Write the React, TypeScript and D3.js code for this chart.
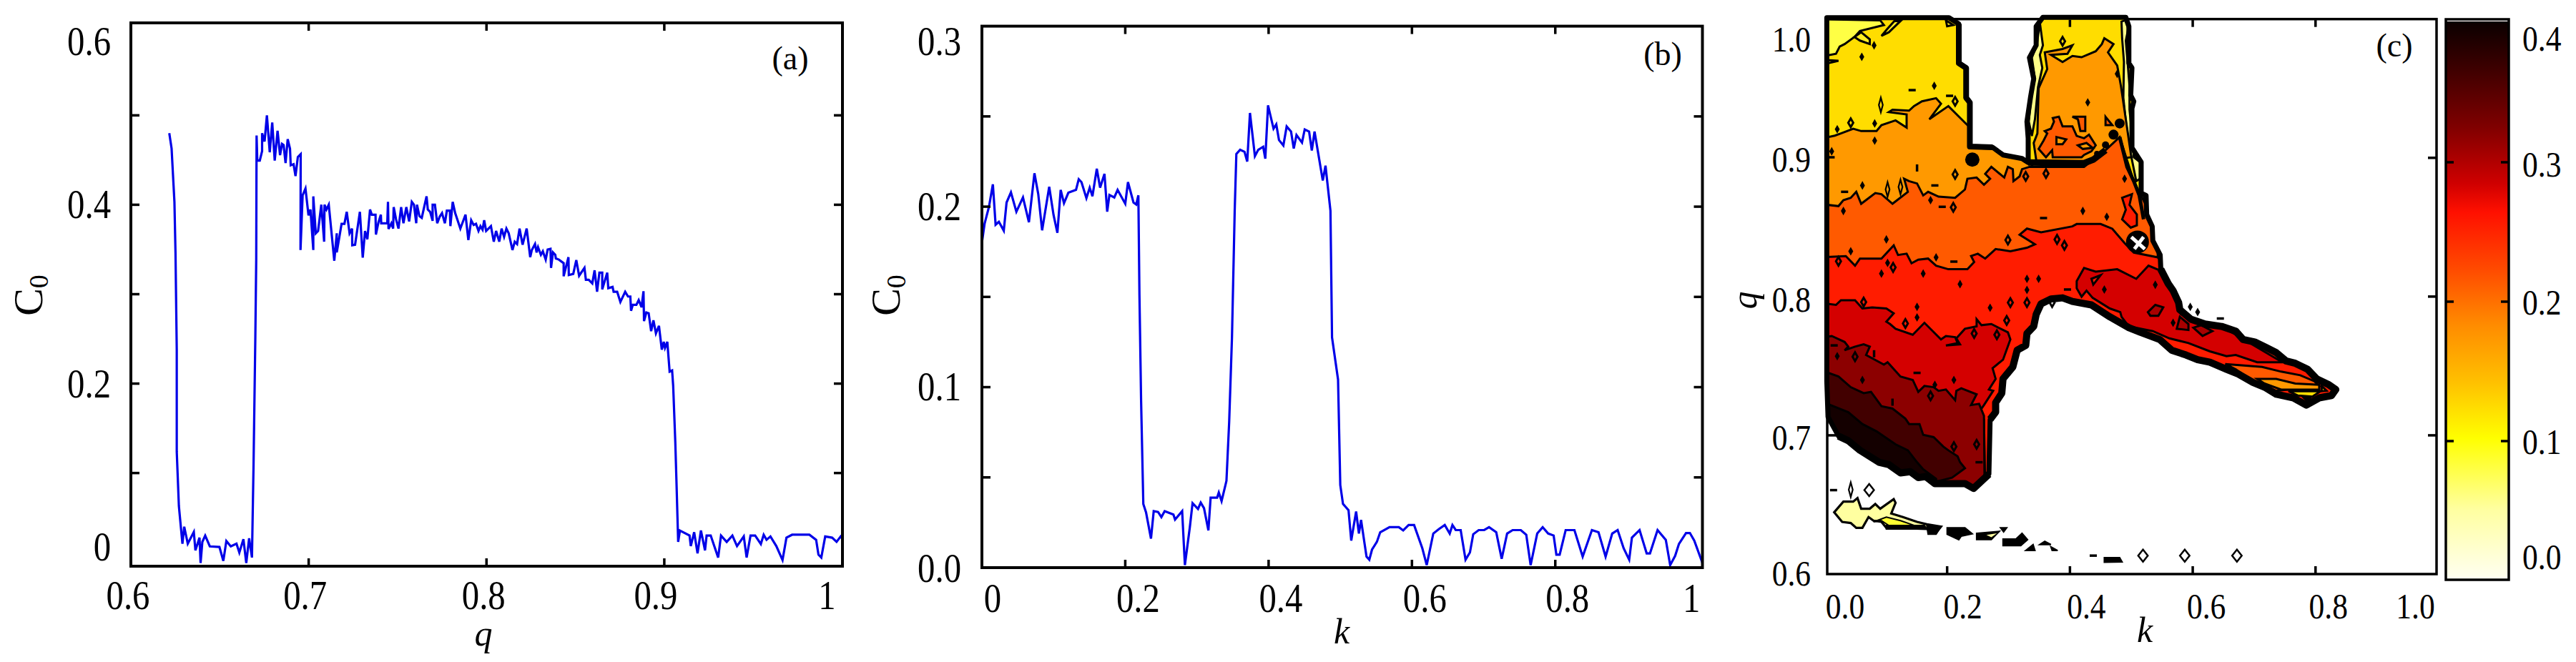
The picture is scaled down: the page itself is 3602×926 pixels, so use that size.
import React from "react";
import * as d3 from "d3";

type P = [number, number];

// ---------- panel (a): C0 against q ----------
const aQ = [.6216,.6229,.6245,.6251,.6258,.6258,.627,.629,.63,.632,.6354,.6363,.6386,.6392,.6402,.6418,.6444,.6498,.652,.6537,.6562,.6594,.661,.6633,.6649,.6665,.6681,.669,.67,.6705,.6707,.6711,.6725,.6738,.6738,.6752,.6765,.6781,.6795,.6809,.6825,.6839,.685,.6859,.687,.6882,.6895,.6899,.6915,.6926,.6939,.6955,.6954,.6966,.6982,.6999,.701,.7026,.7026,.704,.7053,.7071,.7087,.7089,.71,.7113,.7144,.7158,.7158,.7185,.7201,.7214,.723,.7244,.7245,.7261,.7288,.7304,.7317,.733,.7345,.7355,.7376,.7378,.7392,.7406,.7408,.7442,.7446,.7449,.7465,.7475,.7478,.7491,.7505,.752,.7533,.7549,.7565,.758,.7592,.7605,.7609,.7623,.7636,.7663,.767,.7683,.7697,.7697,.771,.7723,.7737,.775,.7766,.7777,.7794,.7797,.781,.7824,.7853,.7882,.7898,.7914,.7928,.7941,.7955,.7966,.7978,.7987,.7998,.8025,.8041,.8054,.8072,.8085,.8099,.8112,.8125,.8146,.8159,.8172,.8186,.8203,.8226,.8246,.8255,.8273,.8282,.829,.8306,.8317,.8333,.8344,.836,.8363,.8374,.8387,.839,.8407,.8434,.8434,.8461,.8463,.8488,.8505,.8521,.8551,.8559,.8575,.8595,.8608,.8622,.8635,.8651,.8651,.8679,.8685,.8709,.8715,.8735,.8753,.878,.8796,.8809,.8813,.8823,.8843,.8856,.8872,.8883,.8886,.8899,.8912,.8926,.8939,.8953,.897,.8986,.8997,.9004,.9017,.903,.9044,.905,.9062,.9069,.9078,.9088,.9142,.9149,.9168,.9187,.9206,.9229,.9238,.9261,.9303,.9319,.9351,.9383,.9409,.9447,.9463,.9485,.9511,.9543,.9559,.9575,.9597,.963,.9665,.9687,.9719,.9816,.9854,.9867,.9883,.9905,.9944,.9969,.9992,1.0002];
const aC = [.48,.463,.403,.346,.238,.124,.063,.021,.04,.021,.034,.0135,.0277,-.0006,.023,.03,.018,.0173,.0018,.024,.018,.021,.011,.026,-.0006,.027,.0055,.11,.252,.3387,.4774,.4494,.4494,.46,.48,.4707,.5,.4587,.492,.4494,.4827,.4555,.468,.4667,.4467,.4734,.4627,.4441,.4454,.4321,.4534,.4566,.3494,.4107,.4182,.3881,.3947,.3494,.4094,.3681,.3707,.4001,.3587,.4001,.3947,.4001,.3374,.3681,.3467,.3787,.3787,.3921,.3681,.3734,.3547,.3553,.3921,.3409,.3707,.3614,.3947,.3889,.3889,.3667,.38,.3889,.3793,.3793,.4033,.3729,.3793,.3734,.3974,.3841,.3734,.3974,.3793,.3974,.3814,.4033,.4001,.3793,.4001,.3873,.3854,.4094,.3947,.3921,.382,.4001,.4001,.3793,.3867,.3907,.3793,.3934,.3934,.3761,.4033,.3907,.3734,.3889,.3606,.3827,.3774,.3787,.3707,.3761,.3721,.3827,.3707,.3761,.3587,.3707,.3587,.3734,.3641,.3734,.3681,.3494,.3587,.3561,.3734,.3553,.3734,.3414,.3494,.3561,.3467,.3526,.344,.348,.3387,.3499,.3507,.3294,.3467,.344,.34,.3387,.3347,.32,.3414,.3214,.3227,.3382,.3206,.3294,.3161,.3161,.3121,.3267,.3027,.3241,.3241,.3054,.3241,.3067,.3081,.3027,.3027,.2913,.3027,.2974,.2974,.2814,.2881,.2881,.2934,.2854,.3033,.2699,.2795,.2787,.2587,.2707,.2561,.2646,.2379,.2467,.24,.2467,.2134,.2147,.1974,.1339,.0867,.023,.0357,.0301,.0183,.0338,.0102,.0357,.0135,.0301,.0301,.0055,.0301,.023,.0301,.0183,.0291,.0055,.0301,.0301,.0206,.031,.0253,.0291,.0183,.0027,.0277,.031,.031,.0253,.0088,.0055,.0291,.0277,.023,.0291,.0263];

// ---------- panel (b): C0 against k ----------
const bK = [0,.0038,.0099,.0153,.0191,.0237,.0305,.0344,.0405,.0481,.0573,.0656,.0733,.0786,.084,.0939,.1,.1053,.1099,.1145,.1206,.1313,.1351,.1389,.1458,.1504,.1542,.1603,.1649,.171,.1748,.1779,.1847,.1893,.2,.2038,.2115,.2153,.2183,.2198,.2221,.2252,.229,.2359,.2397,.2458,.2504,.255,.2672,.2695,.2794,.2832,.2901,.2939,.3015,.3053,.3099,.316,.3191,.3282,.3305,.3344,.3412,.345,.3489,.3527,.355,.3603,.3664,.3702,.374,.3809,.3855,.3924,.3954,.3992,.4069,.4107,.4145,.4206,.4252,.4313,.4351,.4389,.4466,.4504,.4565,.4603,.4641,.4756,.4794,.4863,.4885,.4969,.5,.5038,.5115,.5153,.5221,.526,.529,.5366,.5405,.5443,.5511,.5557,.5687,.5817,.5878,.5954,.603,.6145,.6206,.6298,.6374,.6458,.6527,.6565,.6611,.668,.6748,.6809,.6855,.6931,.7008,.7076,.7176,.7252,.7328,.7405,.7519,.7595,.7656,.7748,.7824,.7901,.7977,.8015,.8061,.8145,.8267,.8382,.8511,.8603,.8702,.8794,.887,.8954,.9031,.9069,.9176,.9275,.9321,.9427,.9542,.9603,.9672,.9725,.9824,.9878,.9939,1.0053];
const bC = [.18,.1907,.2,.2124,.19,.1916,.1867,.2023,.2079,.1972,.2051,.1914,.2185,.207,.1869,.211,.1953,.1855,.2093,.2019,.2077,.2093,.2152,.2136,.2047,.2105,.2058,.221,.2105,.2182,.1972,.2065,.2051,.2093,.2016,.2136,.2023,.2012,.2063,.1509,.0925,.0353,.0306,.0161,.0313,.0308,.028,.0313,.0294,.0266,.0313,.0014,.0224,.0357,.0325,.036,.0329,.0206,.0388,.0388,.0416,.0369,.0481,.0808,.1276,.1977,.2292,.2315,.2304,.225,.2519,.228,.2315,.2332,.2266,.2561,.2432,.2456,.2369,.2339,.2444,.2416,.2322,.2397,.2355,.2428,.2416,.2311,.2416,.2145,.2227,.1977,.1276,.1042,.0458,.0353,.0318,.015,.0311,.0189,.0264,.0061,.0044,.01,.0143,.0196,.0224,.0224,.0206,.0236,.0236,.0107,.0014,.0189,.0213,.0236,.0189,.0236,.0208,.0208,.0044,.0084,.0185,.0208,.0208,.0224,.0196,.0049,.0189,.0208,.0208,.0182,.0014,.0189,.0224,.0189,.0178,.0072,.0072,.0208,.0208,.0061,.0208,.0196,.0061,.0189,.0208,.0107,.0044,.0166,.0208,.0079,.0079,.0208,.0154,.0014,.0065,.0131,.0192,.0192,.015,.0026];

// ---------- panel (c): contour regions in (k, q) ----------
const silhouette: P[] = [[.004,1.001],[.203,1.001],[.219,.9965],[.219,.9682],[.231,.9648],[.231,.9433],[.237,.9399],[.237,.9081],[.274,.9076],[.291,.9021],[.322,.8995],[.332,.8966],[.332,.9047],[.332,.9141],[.33,.9261],[.336,.9442],[.341,.957],[.334,.9722],[.345,.9811],[.345,.9948],[.356,1.0013],[.491,1.0013],[.496,.9948],[.496,.9682],[.501,.9648],[.499,.945],[.504,.9407],[.501,.9356],[.501,.9073],[.516,.897],[.516,.8746],[.524,.8729],[.525,.8592],[.534,.8506],[.535,.8403],[.547,.83],[.548,.8197],[.56,.8094],[.568,.8043],[.577,.7957],[.579,.7905],[.597,.7837],[.62,.7802],[.647,.7785],[.67,.7751],[.682,.7691],[.701,.7673],[.717,.7639],[.736,.7596],[.752,.7536],[.767,.7519],[.787,.7476],[.802,.7407],[.822,.7364],[.833,.733],[.826,.7287],[.806,.727],[.785,.7218],[.764,.727],[.736,.7296],[.717,.7347],[.698,.7382],[.674,.7442],[.655,.7476],[.628,.7527],[.608,.7545],[.589,.7579],[.566,.7613],[.546,.7691],[.515,.7742],[.496,.7776],[.465,.7854],[.435,.794],[.404,.7965],[.388,.7991],[.369,.7982],[.353,.7948],[.345,.7871],[.341,.7785],[.33,.7734],[.328,.7648],[.314,.7613],[.307,.7493],[.291,.7407],[.289,.7304],[.279,.7236],[.279,.7167],[.27,.7115],[.268,.672],[.243,.6617],[.229,.6652],[.18,.6652],[.165,.6703],[.153,.6695],[.14,.6738],[.124,.6729],[.105,.6789],[.089,.6806],[.058,.6892],[.039,.6961],[.023,.6995],[.006,.7133],[.004,.739]];

const brightCorner: P[] = [[-.01,1.0],[.091,.9991],[.097,.9957],[.058,.9914],[.049,.9871],[.033,.982],[.025,.9802],[.019,.975],[-.01,.9725]];
const brightBits: P[][] = [
  [[-.01,.9708],[.023,.9699],[-.01,.9665]],
  [[.093,.9879],[.105,.9905],[.124,.9986],[.114,.9986],[.103,.9931]],
  [[.049,.9871],[.06,.9905],[.074,.9854],[.074,.982],[.058,.9845]],
  [[.198,.9991],[.21,.9957],[.2,.9948]],
];
const paleStripes: P[][] = [
  [[.351,.9974],[.346,.9811],[.338,.9722],[.343,.957],[.337,.9442],[.333,.9261],[.338,.9158],[.343,.9278],[.348,.951],[.355,.9648],[.351,.9742],[.356,.9811]],
  [[.49,.9991],[.495,.9931],[.491,.9845],[.494,.9682],[.497,.9519],[.497,.9347],[.501,.9176],[.504,.9004],[.514,.897],[.514,.8849],[.508,.8832],[.497,.9073],[.491,.9261],[.487,.9433],[.488,.9691],[.485,.9862],[.484,.9982]],
  [[.52,.8729],[.526,.8592],[.516,.8592],[.516,.8729]],
];
const orangeLeft: P[] = [[-.01,.9133],[.017,.916],[.027,.9176],[.047,.921],[.06,.9193],[.085,.9193],[.093,.9236],[.116,.927],[.134,.9218],[.134,.9313],[.105,.933],[.111,.9347],[.138,.934],[.146,.9373],[.159,.9407],[.182,.943],[.19,.939],[.171,.9278],[.202,.9373],[.233,.9236],[.241,.9227],[.241,.915],[.34,.895],[.34,.85],[-.01,.85]];
const orangeRight: P[] = [[.359,.976],[.388,.9785],[.404,.9811],[.396,.975],[.369,.9742],[.388,.9691],[.404,.9734],[.419,.9725],[.442,.9768],[.452,.982],[.456,.9862],[.471,.982],[.462,.976],[.477,.9665],[.483,.9519],[.491,.9278],[.5,.9004],[.334,.8918],[.345,.8986],[.341,.9107],[.347,.9176],[.349,.9502],[.363,.964]];
const darkOrange: P[] = [[-.01,.8669],[.023,.8652],[.031,.8695],[.043,.8712],[.052,.8755],[.06,.8669],[.083,.8746],[.093,.8738],[.111,.8669],[.136,.8755],[.13,.8849],[.138,.8832],[.151,.8815],[.161,.8729],[.169,.8755],[.186,.872],[.213,.8712],[.229,.8772],[.233,.8849],[.248,.8858],[.26,.8806],[.27,.8849],[.262,.8884],[.272,.8935],[.293,.8858],[.299,.8935],[.307,.8918],[.308,.8832],[.318,.8866],[.322,.8918],[.334,.8935],[.423,.8935],[.438,.8987],[.458,.9055],[.481,.915],[.504,.8832],[.543,.8489],[.543,.76],[-.01,.76]];
const darkOrangePatches: P[][] = [
  [[.359,.9193],[.369,.921],[.374,.9261],[.372,.9287],[.382,.9296],[.388,.9227],[.404,.9227],[.411,.9158],[.423,.9141],[.431,.9167],[.442,.909],[.435,.9047],[.423,.9021],[.419,.9004],[.372,.9004],[.371,.9055],[.361,.9004],[.349,.9064],[.357,.9124],[.363,.9176]],
  [[.404,.9296],[.425,.9296],[.425,.9193],[.417,.9193],[.413,.9278]],
  [[.458,.9296],[.469,.9236],[.458,.9236]],
];
const orangeIslands: P[][] = [
  [[.378,.915],[.394,.9133],[.388,.9098],[.378,.9098]],
  [[.413,.909],[.427,.9107],[.437,.9072],[.421,.9064]],
];
const redOrange: P[] = [[-.01,.8283],[.035,.8292],[.05,.8223],[.058,.8274],[.093,.8274],[.113,.8369],[.12,.83],[.134,.8309],[.142,.824],[.153,.8266],[.169,.8274],[.182,.8223],[.202,.8197],[.233,.8197],[.244,.8249],[.239,.8292],[.25,.8309],[.262,.8274],[.279,.8343],[.303,.8326],[.33,.8352],[.343,.8377],[.318,.8446],[.33,.849],[.353,.8463],[.404,.8506],[.411,.8523],[.45,.8523],[.469,.8489],[.489,.8386],[.504,.8317],[.543,.8283],[.6,.8],[.85,.76],[.9,.65],[-.01,.65]];
const redOrangePatch: P[] = [[.485,.8712],[.501,.8738],[.497,.866],[.509,.8592],[.509,.8514],[.499,.8497],[.485,.8557],[.491,.8626]];
const red: P[] = [[-.01,.7957],[.019,.794],[.027,.7974],[.05,.7974],[.062,.7914],[.078,.7922],[.101,.7914],[.113,.7879],[.101,.7819],[.107,.7802],[.116,.7768],[.144,.7725],[.163,.7811],[.19,.7691],[.198,.7716],[.213,.7708],[.217,.7665],[.198,.7648],[.221,.7656],[.215,.7699],[.229,.7768],[.248,.7785],[.248,.7837],[.256,.7794],[.272,.7802],[.299,.7742],[.303,.7691],[.291,.7545],[.274,.7484],[.279,.7407],[.268,.733],[.275,.7321],[.26,.7218],[.252,.7167],[.26,.7115],[.262,.6617],[-.01,.6617]];
const redIsland: P[] = [[.411,.8111],[.423,.8206],[.442,.818],[.477,.8197],[.508,.8128],[.528,.8223],[.551,.818],[.562,.8077],[.581,.7871],[.647,.7785],[.746,.7527],[.705,.7527],[.67,.7579],[.655,.757],[.628,.7605],[.593,.7665],[.562,.7699],[.535,.7751],[.496,.7785],[.484,.7854],[.482,.7888],[.465,.7914],[.437,.7991],[.427,.8043],[.419,.7999],[.411,.806]];
const darkRedPatches: P[][] = [
  [[.527,.7888],[.539,.794],[.552,.7923],[.544,.7862],[.531,.7862]],
  [[.574,.7768],[.579,.7854],[.593,.7802],[.593,.7759]],
  [[.601,.7776],[.614,.7794],[.632,.7751],[.616,.7716]],
];
const redOrangeBit: P[] = [[.435,.8128],[.45,.8154],[.438,.8086]];
const tailDarkOrange: P[] = [[.653,.7514],[.713,.7493],[.744,.7459],[.775,.7433],[.798,.739],[.806,.7356],[.736,.7321],[.698,.739],[.67,.7476]];
const tailOrange: P[] = [[.705,.7407],[.736,.7407],[.767,.7373],[.806,.7364],[.806,.733],[.744,.733],[.717,.7373]];
const tailGold: P[][] = [
  [[.756,.7318],[.808,.7318],[.795,.7279],[.771,.7287]],
  [[.81,.7356],[.818,.7321],[.81,.7318]],
];
const tailBright: P[] = [[.781,.727],[.793,.7273],[.785,.7253]];
const darkRed: P[] = [[-.01,.7699],[.012,.7716],[.033,.7673],[.039,.7639],[.033,.7613],[.05,.7639],[.064,.7656],[.074,.7639],[.068,.7579],[.097,.751],[.103,.7527],[.124,.7424],[.144,.7399],[.153,.7313],[.163,.7356],[.178,.7347],[.186,.7321],[.198,.733],[.213,.7253],[.215,.7321],[.223,.7339],[.248,.7296],[.239,.7218],[.252,.7227],[.26,.7141],[.261,.6617],[-.01,.6617]];
const veryDark: P[] = [[-.01,.7476],[.023,.7424],[.043,.7347],[.064,.7304],[.076,.7313],[.093,.721],[.111,.7193],[.132,.712],[.138,.7081],[.155,.7081],[.161,.7004],[.178,.6987],[.194,.6918],[.202,.6892],[.217,.6849],[.221,.6806],[.229,.6763],[.208,.6695],[.155,.6635],[-.01,.6635]];
const nearBlack: P[] = [[-.01,.7253],[.039,.7167],[.062,.7081],[.085,.7029],[.116,.6935],[.136,.6892],[.151,.6806],[.161,.6755],[.182,.6686],[.182,.6617],[-.01,.66]];

const notchBand: P[] = [[.332,.8966],[.423,.8962],[.438,.8987],[.458,.9055]];
const rightEdgeBand: P[] = [[.481,.915],[.493,.8935],[.504,.8832],[.513,.8729],[.52,.8557]];

const blobs: [number, number, number][] = [[.481,.9248,7],[.471,.9167,7],[.458,.9093,5],[.444,.903,4],[.241,.8987,10],[.51,.8394,16]];
const whiteCross: P[][] = [[[.5,.8429],[.522,.8343]],[[.505,.8343],[.52,.8429]]];

const specks: P[] = [[.081,.9811],[.061,.9728],[.179,.9519],[.082,.9248],[.021,.9206],[.082,.9124],[.012,.9047],[.062,.8801],[.429,.9399],[.477,.9605],[.031,.8617],[.173,.8695],[.489,.8849],[.421,.8617],[.46,.8575],[.101,.8412],[.043,.8326],[.182,.8283],[.103,.8243],[.093,.8166],[.161,.8166],[.221,.809],[.33,.8128],[.349,.8128],[.33,.8048],[.151,.7926],[.27,.7919],[.151,.785],[.456,.8051],[.062,.7399],[.211,.7399],[.18,.7364],[.021,.757],[.539,.8085],[.568,.7811],[.596,.7926],[.608,.7888]];
const dashes: P[] = [[.143,.9488],[.204,.9447],[.011,.9004],[.18,.8801],[.033,.8755],[.192,.8647],[.357,.8566],[.211,.8252],[.151,.745],[.016,.7648],[.252,.6806],[.396,.8051],[.645,.7842],[.015,.6605],[.438,.6133]];
const vDashes: P[] = [[.151,.8927],[.4,.9969],[.111,.7239],[.081,.7588]];
const openDiamonds: P[] = [[.043,.9253],[.213,.9407],[.213,.888],[.388,.984],[.361,.8887],[.328,.8866],[.21,.8643],[.023,.8254],[.112,.821],[.299,.8408],[.379,.8412],[.391,.8369],[.132,.7806],[.281,.7725],[.33,.7957],[.173,.7284],[.211,.6918],[.05,.7567],[.064,.796],[.244,.7734],[.248,.6935],[.303,.7957],[.297,.7828],[.371,.7957]];
const tallDiamonds: P[] = [[.092,.9381],[.103,.8772],[.124,.879],[.043,.6608]];
const wideDiamonds: P[] = [[.073,.6605],[.519,.6133],[.587,.6133],[.672,.6133]];

const paleBlob: P[] = [[.016,.6445],[.031,.6522],[.047,.6522],[.054,.6548],[.06,.6471],[.074,.6471],[.083,.6505],[.091,.6471],[.113,.654],[.116,.6514],[.109,.6437],[.128,.6411],[.151,.6376],[.167,.6359],[.19,.6342],[.182,.6299],[.167,.6325],[.116,.6333],[.101,.6333],[.093,.6376],[.08,.6385],[.072,.6411],[.062,.6333],[.052,.6333],[.043,.6368],[.029,.6376]];
const paleBlobYellow: P[] = [[.08,.6376],[.101,.6411],[.124,.6385],[.147,.635],[.105,.635],[.093,.6385]];
const lowerChunks: P[][] = [
  [[.101,.6351],[.163,.6351],[.167,.6325],[.101,.6325]],
  [[.167,.6346],[.19,.6342],[.182,.6287],[.169,.6287]],
  [[.2,.6333],[.229,.6333],[.241,.629],[.223,.6273],[.219,.6248],[.2,.6287]],
  [[.248,.6294],[.285,.6308],[.272,.6248],[.248,.6248]],
  [[.291,.6253],[.312,.6253],[.322,.6294],[.331,.6248],[.32,.6205],[.291,.6205]],
  [[.328,.617],[.34,.6213],[.343,.617]],
  [[.351,.6213],[.359,.6236],[.369,.6213]],
  [[.369,.6196],[.38,.617],[.371,.617]],
  [[.287,.6333],[.297,.6333],[.292,.6304]],
  [[.456,.6119],[.481,.6119],[.485,.6088],[.456,.6085]],
];
const lowerChunkInset: P[] = [[.264,.6282],[.281,.6294],[.272,.6265]];

const barValues = [0,.05,.1,.14,.18,.22,.26,.28,.32,.36,.395];
const barColors = ["#fffff2","#ffffa0","#ffff00","#ffc000","#ff8c00","#ff4a00","#ff1000","#d00000","#800000","#400000","#0a0000"];

const aXTicks = [.7,.8,.9];
const aYTicks = [.1,.2,.3,.4,.5];
const aXLabels = ["0.6","0.7","0.8","0.9","1"];
const aXLabelValues = [.6,.7,.8,.9,1];
const aYLabels = ["0.6","0.4","0.2","0"];
const aYLabelValues = [.6,.4,.2,0];
const bXTicks = [.2,.4,.6,.8];
const bYTicks = [.05,.1,.15,.2,.25];
const bXLabels = ["0","0.2","0.4","0.6","0.8","1"];
const bXLabelValues = [0,.2,.4,.6,.8,1];
const bYLabels = ["0.3","0.2","0.1","0.0"];
const bYLabelValues = [.3,.2,.1,0];
const cXTicks = [.2,.4,.6,.8];
const cYTicks = [.7,.8,.9];
const cXLabels = ["0.0","0.2","0.4","0.6","0.8","1.0"];
const cXLabelValues = [0,.2,.4,.6,.8,1];
const cYLabels = ["1.0","0.9","0.8","0.7","0.6"];
const cYLabelValues = [1,.9,.8,.7,.6];
const barTicks = [.1,.2,.3];
const barLabels = ["0.4","0.3","0.2","0.1","0.0"];
const barLabelValues = [.4,.3,.2,.1,0];

// label placement offsets in px (the original labels are nudged off their ticks)
const aXShift = [-4,-5,-4,-12,-21];
const aYShift = [22,0,1,-22];
const bXShift = [15,18,17,18,17,-10];
const bYShift = [22,0,0,1];
const cXShift = [29,22,23,19,18,-32];
const cYShift = [29,2,4,3,-1];
const barShift = [22,3,1,1,-33];

const FONT = "'Liberation Serif','Times New Roman',serif";
const BLUE = "#0000e8";

function Num({ x, y, anchor, size, children }: { x: number; y: number; anchor: "start" | "middle" | "end"; size: number; children: string }) {
  // the reference's digits are tall and narrow: squeeze the natural width
  const natural = Array.from(children).reduce((s, c) => s + (c === "." ? .25 : .5), 0) * size;
  return (
    <text x={x} y={y} dy="0.335em" textAnchor={anchor} fontFamily={FONT} fontSize={size} fill="#000" textLength={natural * .87} lengthAdjust="spacingAndGlyphs">
      {children}
    </text>
  );
}

function Ticks({ x0, x1, y0, y1, xs, ys, x, y }: any) {
  const lenY = 11, lenX = 12;
  return (
    <g stroke="#000" strokeWidth={3.5}>
      {xs.map((t: number) => (
        <g key={t}>
          <line x1={x(t)} x2={x(t)} y1={y0} y2={y0 - lenY} />
          <line x1={x(t)} x2={x(t)} y1={y1} y2={y1 + lenY} />
        </g>
      ))}
      {ys.map((t: number) => (
        <g key={t}>
          <line x1={x0} x2={x0 + lenX} y1={y(t)} y2={y(t)} />
          <line x1={x1} x2={x1 - lenX} y1={y(t)} y2={y(t)} />
        </g>
      ))}
    </g>
  );
}

function C0({ px, py }: { px: number; py: number }) {
  return (
    <text transform={`translate(${px},${py}) rotate(-90)`} textAnchor="middle" fontSize={58} fontFamily={FONT} dy="0.33em">
      C<tspan fontSize={38} dy={8}>0</tspan>
    </text>
  );
}

export default function App() {
  // panel a
  const ax = d3.scaleLinear().domain([.6, 1.0002]).range([183, 1178]);
  const ay = d3.scaleLinear().domain([-.0042, .6034]).range([792, 32]);
  const aLine = d3.line<number>().x((_, i) => ax(aQ[i])).y((_, i) => ay(aC[i]));
  // panel b
  const bx = d3.scaleLinear().domain([0, 1.0053]).range([1373, 2380.5]);
  const by = d3.scaleLinear().domain([0, .3]).range([794, 36.6]);
  const bLine = d3.line<number>().x((_, i) => bx(bK[i])).y((_, i) => by(bC[i]));
  // panel c
  const cx = d3.scaleLinear().domain([.0047, .9971]).range([2555, 3407]);
  const cy = d3.scaleLinear().domain([.6, 1]).range([803, 26.7]);
  const poly = d3.line<P>().x((d) => cx(d[0])).y((d) => cy(d[1]));
  const closed = (p: P[]) => (poly(p) as string) + "Z";
  const barY = d3.scaleLinear().domain([0, .395]).range([812, 41.7]);

  const Reg = ({ d, fill, sw = 3 }: { d: P[]; fill: string; sw?: number }) => (
    <path d={closed(d)} fill={fill} stroke="#000" strokeWidth={sw} strokeLinejoin="miter" />
  );
  const diamond = d3.symbol().type(d3.symbolDiamond).size(42)() as string;
  const diamondBig = d3.symbol().type(d3.symbolDiamond).size(130)() as string;

  // stretches of the outer contour where many level lines pile up into a heavy black edge
  const at = (k: number) => silhouette.findIndex((p) => p[0] === k);
  const heavyTail = silhouette.slice(at(.548), at(.27) + 1);
  const heavyBase = silhouette.slice(at(.268), at(.023) + 1);
  const heavyLeftColumn = silhouette.slice(at(.219), at(.274) + 1);

  return (
    <svg width={3602} height={926} viewBox="0 0 3602 926" style={{ position: "absolute", left: 0, top: 0, background: "#fff", display: "block" }}>
      <defs>
        <clipPath id="sil"><path d={closed(silhouette)} /></clipPath>
        <linearGradient id="barGrad" x1="0" y1="1" x2="0" y2="0">
          {barValues.map((v, i) => (
            <stop key={v} offset={v / barValues[barValues.length - 1]} stopColor={barColors[i]} />
          ))}
        </linearGradient>
      </defs>

      {/* panel a */}
      <path d={aLine(aQ) as string} fill="none" stroke={BLUE} strokeWidth={3.2} strokeLinejoin="miter" />
      <rect x={183} y={32} width={995} height={760} fill="none" stroke="#000" strokeWidth={4} />
      <Ticks x0={183} x1={1178} y0={792} y1={32} xs={aXTicks} ys={aYTicks} x={ax} y={ay} />
      {aXLabels.map((l, i) => (
        <Num key={l} x={ax(aXLabelValues[i]) + aXShift[i]} y={833} anchor="middle" size={56}>{l}</Num>
      ))}
      {aYLabels.map((l, i) => (
        <Num key={l} x={155} y={ay(aYLabelValues[i]) + aYShift[i]} anchor="end" size={56}>{l}</Num>
      ))}
      <text x={676} y={893} dy="0.2em" textAnchor="middle" fontFamily={FONT} fontStyle="italic" fontSize={50}>q</text>
      <C0 px={40} py={413} />
      <text x={1105} y={83} dy="0.3em" textAnchor="middle" fontFamily={FONT} fontSize={46}>(a)</text>

      {/* panel b */}
      <path d={bLine(bK) as string} fill="none" stroke={BLUE} strokeWidth={3.2} strokeLinejoin="miter" />
      <rect x={1373} y={36.6} width={1007.5} height={757.4} fill="none" stroke="#000" strokeWidth={4} />
      <Ticks x0={1373} x1={2380.5} y0={794} y1={36.6} xs={bXTicks} ys={bYTicks} x={bx} y={by} />
      {bXLabels.map((l, i) => (
        <Num key={l} x={bx(bXLabelValues[i]) + bXShift[i]} y={837} anchor="middle" size={56}>{l}</Num>
      ))}
      {bYLabels.map((l, i) => (
        <Num key={l} x={1344} y={by(bYLabelValues[i]) + bYShift[i]} anchor="end" size={56}>{l}</Num>
      ))}
      <text x={1876} y={885} dy="0.3em" textAnchor="middle" fontFamily={FONT} fontStyle="italic" fontSize={50}>k</text>
      <C0 px={1239} py={413} />
      <text x={2325} y={77} dy="0.3em" textAnchor="middle" fontFamily={FONT} fontSize={46}>(b)</text>

      {/* panel c */}
      <rect x={2555} y={26.7} width={852} height={776.3} fill="none" stroke="#000" strokeWidth={3.5} />
      <Ticks x0={2555} x1={3407} y0={803} y1={26.7} xs={cXTicks} ys={cYTicks} x={cx} y={cy} />
      <path d={closed(silhouette)} fill="#ffdd00" />
      <g clipPath="url(#sil)">
        <Reg d={brightCorner} fill="#ffff44" />
        {brightBits.map((b, i) => <Reg key={i} d={b} fill="#ffee22" />)}
        {paleStripes.map((b, i) => <Reg key={i} d={b} fill="#ffff88" />)}
        <Reg d={orangeLeft} fill="#ff9900" />
        <Reg d={orangeRight} fill="#ff9900" />
        {darkOrangePatches.map((b, i) => <Reg key={i} d={b} fill="#ff5a00" />)}
        {orangeIslands.map((b, i) => <Reg key={i} d={b} fill="#ff9900" />)}
        <Reg d={darkOrange} fill="#ff5a00" />
        <Reg d={redOrangePatch} fill="#ff1c00" />
        <Reg d={redOrange} fill="#ff1c00" />
        <Reg d={red} fill="#d40000" />
        <Reg d={redIsland} fill="#d40000" />
        <Reg d={redOrangeBit} fill="#ff1c00" />
        {darkRedPatches.map((b, i) => <Reg key={i} d={b} fill="#a80000" />)}
        <Reg d={tailDarkOrange} fill="#ff5a00" />
        <Reg d={tailOrange} fill="#ff9900" />
        {tailGold.map((b, i) => <Reg key={i} d={b} fill="#ffdd00" />)}
        <Reg d={tailBright} fill="#ffff44" />
        <Reg d={darkRed} fill="#8c0000" />
        <Reg d={veryDark} fill="#420000" />
        <Reg d={nearBlack} fill="#140000" />
      </g>
      <path d={closed(silhouette)} fill="none" stroke="#000" strokeWidth={7} strokeLinejoin="round" />
      <path d={poly(heavyTail) as string} fill="none" stroke="#000" strokeWidth={10} strokeLinejoin="round" />
      <path d={poly(heavyBase) as string} fill="none" stroke="#000" strokeWidth={10} strokeLinejoin="round" />
      <path d={poly(heavyLeftColumn) as string} fill="none" stroke="#000" strokeWidth={8} strokeLinejoin="round" />
      <path d={poly(notchBand) as string} fill="none" stroke="#000" strokeWidth={9} />
      <path d={poly(rightEdgeBand) as string} fill="none" stroke="#000" strokeWidth={5} />
      {blobs.map(([k, q, r], i) => <circle key={i} cx={cx(k)} cy={cy(q)} r={r} fill="#000" />)}
      {whiteCross.map((s, i) => <path key={i} d={poly(s) as string} stroke="#fff" strokeWidth={5} fill="none" />)}
      {specks.map(([k, q], i) => <path key={i} d={diamond} transform={`translate(${cx(k)},${cy(q)})`} fill="#000" />)}
      {dashes.map(([k, q], i) => <line key={i} x1={cx(k) - 5} x2={cx(k) + 5} y1={cy(q)} y2={cy(q)} stroke="#000" strokeWidth={3.5} />)}
      {vDashes.map(([k, q], i) => <line key={i} x1={cx(k)} x2={cx(k)} y1={cy(q) - 5} y2={cy(q) + 5} stroke="#000" strokeWidth={3.5} />)}
      {openDiamonds.map(([k, q], i) => <path key={i} d={diamond} transform={`translate(${cx(k)},${cy(q)})`} fill="none" stroke="#000" strokeWidth={3} />)}
      {tallDiamonds.map(([k, q], i) => <path key={i} d={diamond} transform={`translate(${cx(k)},${cy(q)}) scale(.8,1.7)`} fill="none" stroke="#000" strokeWidth={2.5} />)}
      {wideDiamonds.map(([k, q], i) => <path key={i} d={diamondBig} transform={`translate(${cx(k)},${cy(q)}) scale(1.1,.8)`} fill="none" stroke="#000" strokeWidth={2.5} />)}
      <path d={closed(paleBlob)} fill="#ffffa0" stroke="#000" strokeWidth={3.2} />
      <path d={closed(paleBlobYellow)} fill="#ffff33" stroke="#000" strokeWidth={2} />
      {lowerChunks.map((b, i) => <path key={i} d={closed(b)} fill="#000" stroke="#000" strokeWidth={2} />)}
      <path d={closed(lowerChunkInset)} fill="#ffffa0" />
      {cXLabels.map((l, i) => (
        <Num key={l} x={cx(cXLabelValues[i]) + cXShift[i]} y={848} anchor="middle" size={50}>{l}</Num>
      ))}
      {cYLabels.map((l, i) => (
        <Num key={l} x={2532} y={cy(cYLabelValues[i]) + cYShift[i]} anchor="end" size={50}>{l}</Num>
      ))}
      <text x={2999} y={883} dy="0.3em" textAnchor="middle" fontFamily={FONT} fontStyle="italic" fontSize={50}>k</text>
      <text transform="translate(2446,420) rotate(-90)" dy="0.2em" textAnchor="middle" fontFamily={FONT} fontStyle="italic" fontSize={50}>q</text>
      <text x={3348} y={65} dy="0.3em" textAnchor="middle" fontFamily={FONT} fontSize={46}>(c)</text>

      {/* colour bar */}
      <rect x={3420} y={30} width={88} height={781} fill="url(#barGrad)" />
      <rect x={3420} y={27} width={88} height={784} fill="none" stroke="#000" strokeWidth={3.5} />
      {barTicks.map((t) => (
        <g key={t} stroke="#000" strokeWidth={3.5}>
          <line x1={3420} x2={3431} y1={barY(t)} y2={barY(t)} />
          <line x1={3508} x2={3497} y1={barY(t)} y2={barY(t)} />
        </g>
      ))}
      {barLabels.map((l, i) => (
        <Num key={l} x={3527} y={barY(barLabelValues[i]) + barShift[i]} anchor="start" size={50}>{l}</Num>
      ))}
    </svg>
  );
}
